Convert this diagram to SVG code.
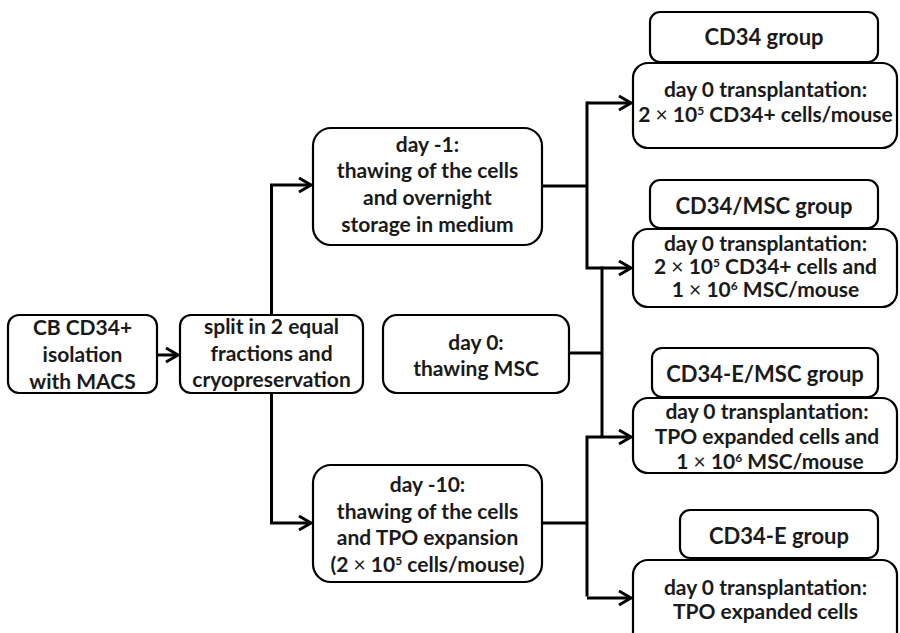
<svg xmlns="http://www.w3.org/2000/svg" width="900" height="633" viewBox="0 0 900 633">
<defs>
<marker id="arr" markerUnits="userSpaceOnUse" markerWidth="20" markerHeight="20" viewBox="-14 -10 16 20" refX="0" refY="0" orient="auto">
<path d="M-12,-7 L0,0 L-12,7" fill="none" stroke="#000" stroke-width="3"/>
</marker>
<style>
.box{fill:#fff;stroke:#000;stroke-width:2.2}
.t{font-family:Lato,"Open Sans","Liberation Sans",sans-serif;font-weight:bold;font-size:21px;fill:#1a1a1a;text-anchor:middle}
.h{font-size:22px}
.x{font-weight:normal}
.s{font-size:12px}
.c{fill:none;stroke:#000;stroke-width:3}
</style>
</defs>
<rect width="900" height="633" fill="#fff"/>
<g id="connectors">
<path class="c" d="M157,355 H178" marker-end="url(#arr)"/>
<path class="c" d="M271.5,315 V185 H311" marker-end="url(#arr)"/>
<path class="c" d="M271.5,393 V523 H311" marker-end="url(#arr)"/>
<path class="c" d="M542,186 H587"/>
<path class="c" d="M587,103 H631" marker-end="url(#arr)"/>
<path class="c" d="M587,101.5 V268 H631" marker-end="url(#arr)"/>
<path class="c" d="M569,353 H602"/>
<path class="c" d="M602,266.5 V437"/>
<path class="c" d="M587,596.5 V437 H631" marker-end="url(#arr)"/>
<path class="c" d="M587,598 H631" marker-end="url(#arr)"/>
<path class="c" d="M542,523 H587"/>
</g>
<g id="cb">
<rect class="box" x="8" y="315" width="149" height="78" rx="11"/>
<text class="t" x="82.5" y="335">CB CD34+</text>
<text class="t" x="82.5" y="362">isolation</text>
<text class="t" x="82.5" y="389">with MACS</text>
</g>
<g id="split">
<rect class="box" x="180" y="315" width="183" height="78" rx="11"/>
<text class="t" x="271.5" y="334">split in 2 equal</text>
<text class="t" x="271.5" y="361">fractions and</text>
<text class="t" x="271.5" y="387">cryopreservation</text>
</g>
<g id="day-1">
<rect class="box" x="313" y="128" width="229" height="117" rx="18"/>
<text class="t" x="427.5" y="152">day -1:</text>
<text class="t" x="427.5" y="178">thawing of the cells</text>
<text class="t" x="427.5" y="205">and overnight</text>
<text class="t" x="427.5" y="232">storage in medium</text>
</g>
<g id="day0">
<rect class="box" x="383" y="315" width="186" height="78" rx="14"/>
<text class="t" x="476" y="350">day 0:</text>
<text class="t" x="476" y="376">thawing MSC</text>
</g>
<g id="day-10">
<rect class="box" x="313" y="465" width="229" height="117" rx="18"/>
<text class="t" x="427.5" y="492">day -10:</text>
<text class="t" x="427.5" y="519">thawing of the cells</text>
<text class="t" x="427.5" y="545">and TPO expansion</text>
<text class="t" x="427.5" y="572">(2 <tspan class="x">×</tspan> 10<tspan class="s" dy="-7">5</tspan><tspan dy="7"> cells/mouse)</tspan></text>
</g>
<g id="cd34">
<rect class="box" x="633" y="63" width="264" height="85" rx="15"/>
<rect class="box" x="650" y="12" width="228" height="50" rx="10"/>
<text class="t h" x="764" y="45">CD34 group</text>
<text class="t" x="765.5" y="97">day 0 transplantation:</text>
<text class="t" x="765.5" y="122">2 <tspan class="x">×</tspan> 10<tspan class="s" dy="-7">5</tspan><tspan dy="7"> CD34+ cells/mouse</tspan></text>
</g>
<g id="cd34-msc">
<rect class="box" x="633" y="229" width="264" height="78" rx="15"/>
<rect class="box" x="650" y="180" width="228" height="48" rx="10"/>
<text class="t h" x="764" y="214">CD34/MSC group</text>
<text class="t" x="765.5" y="251">day 0 transplantation:</text>
<text class="t" x="765.5" y="274">2 <tspan class="x">×</tspan> 10<tspan class="s" dy="-7">5</tspan><tspan dy="7"> CD34+ cells and</tspan></text>
<text class="t" x="765.5" y="297">1 <tspan class="x">×</tspan> 10<tspan class="s" dy="-7">6</tspan><tspan dy="7"> MSC/mouse</tspan></text>
</g>
<g id="cd34e-msc">
<rect class="box" x="633" y="398" width="264" height="75" rx="15"/>
<rect class="box" x="652" y="348" width="226" height="49" rx="10"/>
<text class="t h" x="765" y="382">CD34-E/MSC group</text>
<text class="t" x="767" y="419">day 0 transplantation:</text>
<text class="t" x="767" y="444">TPO expanded cells and</text>
<text class="t" x="770" y="469">1 <tspan class="x">×</tspan> 10<tspan class="s" dy="-7">6</tspan><tspan dy="7">  MSC/mouse</tspan></text>
</g>
<g id="cd34e">
<rect class="box" x="633" y="560" width="264" height="90" rx="15"/>
<rect class="box" x="680" y="510" width="198" height="48" rx="10"/>
<text class="t h" x="779" y="544">CD34-E group</text>
<text class="t" x="765.5" y="595">day 0 transplantation:</text>
<text class="t" x="765.5" y="619">TPO expanded cells</text>
</g>
</svg>
